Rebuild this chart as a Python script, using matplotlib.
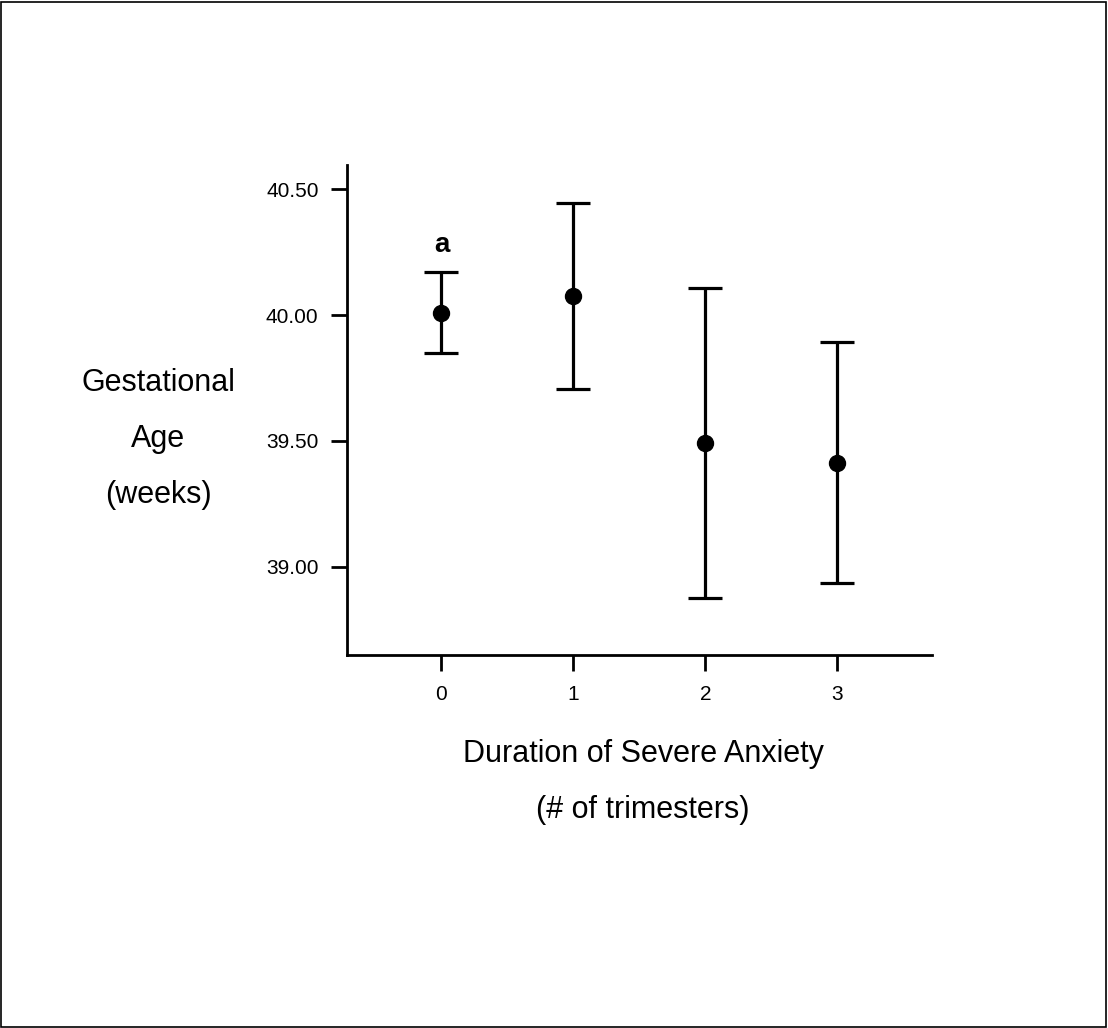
import matplotlib
matplotlib.use("Agg")
import matplotlib.pyplot as plt
from matplotlib.patches import Rectangle

plt.rcParams['font.family'] = ['Liberation Sans', 'DejaVu Sans']

# Data
categories = [0, 1, 2, 3]
means = [40.009, 40.076, 39.492, 39.412]
upper = [40.172, 40.444, 40.106, 39.891]
lower = [39.848, 39.707, 38.875, 38.935]
ytick_values = [39.00, 39.50, 40.00, 40.50]
ytick_labels = ["39.00", "39.50", "40.00", "40.50"]
annotation = "a"

err_low = [m - l for m, l in zip(means, lower)]
err_high = [u - m for u, m in zip(upper, means)]

fig = plt.figure(figsize=(11.08, 10.28), dpi=100)
ax = fig.add_axes([347/1108, 1 - 655/1028, (932-347)/1108, (655-165)/1028])

ax.errorbar(categories, means, yerr=[err_low, err_high], fmt='o', color='black',
            ecolor='black', elinewidth=2.3, capsize=12.5, capthick=2.3,
            markersize=11.5)

ax.text(categories[0], 40.28, annotation, ha='center', va='center',
        fontsize=20, fontweight='bold')

ax.set_xlim(-0.716, 3.717)
ax.set_ylim(38.648, 40.597)
ax.set_xticks(categories)
ax.set_xticklabels([str(c) for c in categories])
ax.set_yticks(ytick_values)
ax.set_yticklabels(ytick_labels)

for side in ['top', 'right']:
    ax.spines[side].set_visible(False)
for side in ['left', 'bottom']:
    ax.spines[side].set_linewidth(2.0)
ax.tick_params(axis='both', direction='out', length=11.5, width=2.0, labelsize=15)
ax.tick_params(axis='y', pad=9)
ax.tick_params(axis='x', pad=10)

fig.text(158/1108, 1 - 439/1028, "Gestational\nAge\n(weeks)", ha='center', va='center',
         fontsize=22, linespacing=2.12)
fig.text(643/1108, 1 - 782/1028, "Duration of Severe Anxiety\n(# of trimesters)",
         ha='center', va='center', fontsize=22, linespacing=2.12)

fig.patches.append(Rectangle((0.0005, 0.0005), 0.998, 0.998, transform=fig.transFigure,
                             fill=False, edgecolor='black', linewidth=1.2))

fig.savefig("out.png", dpi=100)
